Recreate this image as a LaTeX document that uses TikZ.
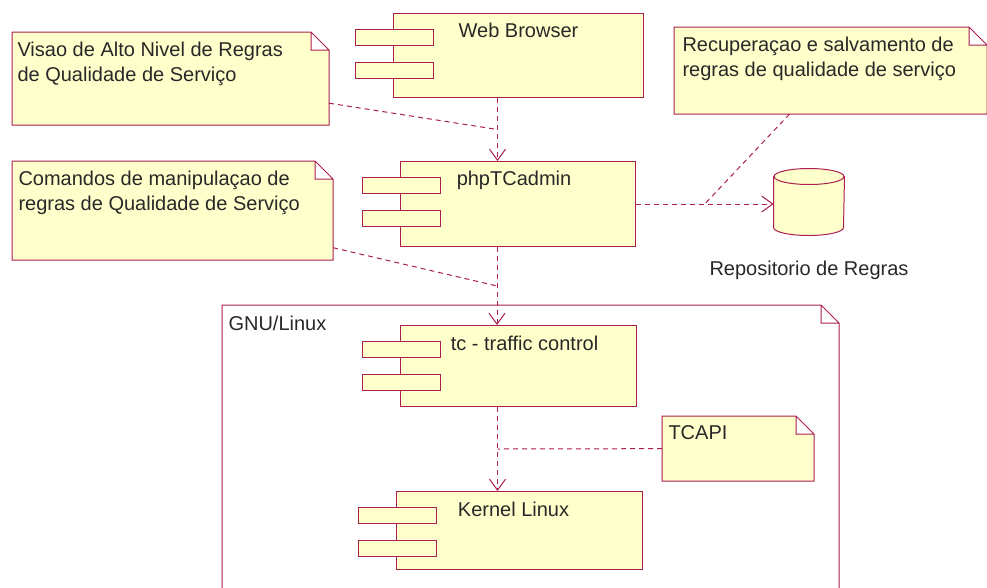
\documentclass[tikz,border=0pt]{standalone}
\usepackage{fontspec}
\setmainfont{Liberation Sans}
\usetikzlibrary{positioning,shapes.geometric,arrows.meta}
\definecolor{umlred}{RGB}{170,30,80}
\definecolor{umlfill}{RGB}{255,255,204}
\definecolor{umltext}{RGB}{40,40,40}
\newcommand\umlfont{\fontsize{20}{25}\selectfont}
\def\ports#1{\draw[port] ([shift={(-38,16)}]#1.north west) rectangle ++(78,16);
  \draw[port] ([shift={(-38,49)}]#1.north west) rectangle ++(78,16);}
\def\folded#1#2{\filldraw[draw=umlred,fill=#2] (#1.north west) -- ([shift={(-18,0)}]#1.north east)
  -- ([shift={(0,18)}]#1.north east) -- (#1.south east) -- (#1.south west) -- cycle
  ([shift={(-18,0)}]#1.north east) |- ([shift={(0,18)}]#1.north east);}
\def\drum#1{\filldraw[draw=umlred,fill=umlfill] ([shift={(0,8)}]#1.north west) -- ([shift={(0,-8)}]#1.south west)
  arc[start angle=180,end angle=360,x radius=35pt,y radius=8pt] -- ([shift={(0,8)}]#1.north east) -- cycle;
  \filldraw[draw=umlred,fill=umlfill] ([shift={(0,8)}]#1.north) ellipse[x radius=35pt,y radius=8pt];}

\begin{document}
\begin{tikzpicture}[x=1pt,y=-1pt,line width=1pt,
    comp/.style={draw=umlred,fill=umlfill,anchor=north west,inner sep=0},
    port/.style={draw=umlred,fill=umlfill},
    notebox/.style={anchor=north west,inner sep=0},
    txt/.style={anchor=north west,inner sep=0,align=left,text=umltext,font=\umlfont},
    ctxt/.style={anchor=north,yshift=-10pt,inner sep=0,text=umltext,font=\umlfont},
    dep/.style={umlred,dash pattern=on 5pt off 4pt,-{Straight Barb[length=11pt,width=16pt]}},
    link/.style={umlred,dash pattern=on 5pt off 4pt}]
  \useasboundingbox (0,0) rectangle (987,587);

  \node[notebox,minimum width=616,minimum height=300] (pkg) at (222,305) {};
  \folded{pkg}{white}
  \node[txt] (pkgtxt) at ([shift={(6,10)}]pkg.north west) {GNU/Linux};

  \node[comp,minimum width=250,minimum height=84,label={[ctxt]north:Web Browser}] (web) at (393,13) {};
  \ports{web}
  \node[comp,minimum width=235,minimum height=85,label={[ctxt,xshift=-4pt]north:phpTCadmin}] (php) at (400,161) {};
  \ports{php}
  \node[comp,minimum width=236,minimum height=81,label={[ctxt,xshift=6pt]north:tc - traffic control}] (tc) at (400,325) {};
  \ports{tc}
  \node[comp,minimum width=246,minimum height=78,label={[ctxt,xshift=-6pt]north:Kernel Linux}] (kern) at (396,491) {};
  \ports{kern}

  \node[notebox,anchor=center,minimum width=70,minimum height=66] (repo) at (809,202) {};
  \drum{repo}
  \node[txt,anchor=north,below=25pt of repo] (repotxt) {Repositorio de Regras};

  \node[notebox,minimum width=316,minimum height=92] (n1) at (12,32) {};
  \folded{n1}{umlfill}
  \node[txt] (n1txt) at ([shift={(5,10)}]n1.north west) {Visao de Alto Nivel de Regras\\de Qualidade de Serviço};
  \node[notebox,minimum width=320,minimum height=98] (n2) at (12,161) {};
  \folded{n2}{umlfill}
  \node[txt] (n2txt) at ([shift={(6,10)}]n2.north west) {Comandos de manipulaçao de\\regras de Qualidade de Serviço};
  \node[notebox,minimum width=312,minimum height=86] (n3) at (674,27) {};
  \folded{n3}{umlfill}
  \node[txt] (n3txt) at ([shift={(8,10)}]n3.north west) {Recuperaçao e salvamento de\\regras de qualidade de serviço};
  \node[notebox,minimum width=151,minimum height=64] (n4) at (662,416) {};
  \folded{n4}{umlfill}
  \node[txt] (n4txt) at ([shift={(6,9)}]n4.north west) {TCAPI};

  \draw[dep] ([xshift=-21pt]web.south) -- coordinate[midway] (m1) ([xshift=-21pt]web.south |- php.north);
  \draw[dep] ([xshift=-21pt]php.south) -- coordinate[midway] (m2) ([xshift=-21pt]php.south |- tc.north);
  \draw[dep] ([xshift=-21pt]tc.south) -- coordinate[midway] (m4) ([xshift=-21pt]tc.south |- kern.north);
  \draw[dep] (php.east) -- coordinate[midway] (m3) (php.east -| repo.west);

  \draw[link] (n1) -- (m1);
  \draw[link] (n2) -- (m2);
  \draw[link] (n3) -- (m3);
  \draw[link] (n4) -- (m4);
\end{tikzpicture}
\end{document}
